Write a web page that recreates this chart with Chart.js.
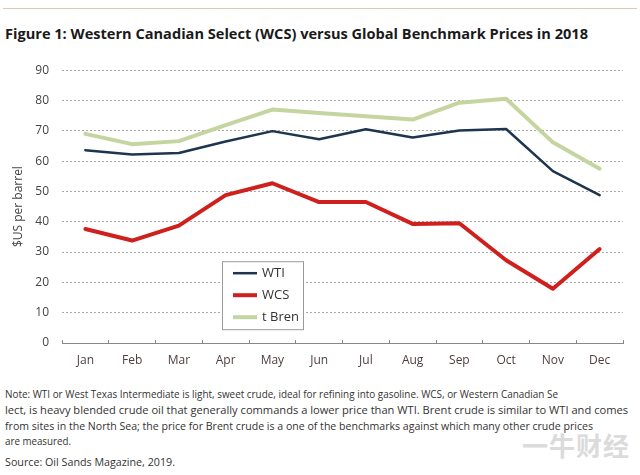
<!DOCTYPE html>
<html>
<head>
<meta charset="utf-8">
<script src="https://cdn.jsdelivr.net/npm/chart.js@4/dist/chart.umd.min.js"></script>
<style>
  body { margin: 0; background: #fff; width: 640px; height: 475px; position: relative; overflow: hidden; font-family: "Open Sans", "Noto Sans", sans-serif; }
  #rule { position: absolute; left: 3px; top: 8px; width: 634px; height: 1px; background: #d9cfae; }
  .fit { position: absolute; white-space: nowrap; transform-origin: 0 50%; }
  #title { left: 5px; top: 23px; font-size: 15px; font-weight: 700; color: #1a1a1a; }
  .note { left: 5px; font-size: 11px; color: #333; }
  #wrap { position: absolute; left: 0; top: 50px; width: 640px; height: 325px; }
  #mark { position: absolute; left: 522px; top: 426px; font-family: "Noto Sans CJK SC", sans-serif; font-weight: 700; font-size: 26px; color: #b8b8b8; opacity: 0.5; letter-spacing: 1px; }
</style>
</head>
<body>
<div id="rule"></div>
<div id="title" class="fit" data-w="583">Figure 1: Western Canadian Select (WCS) versus Global Benchmark Prices in 2018</div>
<div id="wrap"><canvas id="chart" width="640" height="325"></canvas></div>
<div class="fit note" style="top:386px" data-w="553">Note: WTI or West Texas Intermediate is light, sweet crude, ideal for refining into gasoline. WCS, or Western Canadian Se</div>
<div class="fit note" style="top:402px" data-w="623">lect, is heavy blended crude oil that generally commands a lower price than WTI. Brent crude is similar to WTI and comes</div>
<div class="fit note" style="top:418px" data-w="588">from sites in the North Sea; the price for Brent crude is a one of the benchmarks against which many other crude prices</div>
<div class="fit note" style="top:433px" data-w="66">are measured.</div>
<div class="fit note" style="top:454px" data-w="170">Source: Oil Sands Magazine, 2019.</div>
<div id="mark">一牛财经</div>
<script>
var months = ['Jan', 'Feb', 'Mar', 'Apr', 'May', 'Jun', 'Jul', 'Aug', 'Sep', 'Oct', 'Nov', 'Dec'];
var wti = [63.6, 62.2, 62.7, 66.5, 69.9, 67.2, 70.5, 67.8, 70.1, 70.6, 56.7, 48.8];
var wcs = [37.6, 33.8, 38.7, 48.8, 52.7, 46.5, 46.5, 39.3, 39.5, 27.3, 17.9, 31.0];
var brent = [69.0, 65.6, 66.6, 71.9, 77.0, 75.9, 74.8, 73.7, 79.3, 80.6, 66.2, 57.5];
var legendNames = ['WTI', 'WCS', 't Bren'];

// squeeze the text lines to the width they take in the figure
function fitText() {
	var els = document.querySelectorAll('.fit');
	for (var i = 0; i < els.length; i++) {
		var target = parseFloat(els[i].getAttribute('data-w'));
		var w = els[i].getBoundingClientRect().width;
		if (w > 0) els[i].style.transform = 'scaleX(' + (target / w) + ')';
	}
}
fitText();

// boxed legend sitting inside the plot
var boxLegend = {
	id: 'boxLegend',
	afterDraw: function(chart) {
		var ctx = chart.ctx;
		var a = chart.chartArea;
		var x = a.left + 160, y = a.top + 191, w = 81, h = 68;
		ctx.save();
		ctx.fillStyle = '#fff';
		ctx.fillRect(x, y, w, h);
		ctx.strokeStyle = '#9a9a9a';
		ctx.lineWidth = 1;
		ctx.strokeRect(x + 0.5, y + 0.5, w, h);
		ctx.font = '13px "Open Sans", sans-serif';
		ctx.textBaseline = 'middle';
		chart.data.datasets.forEach(function(ds, i) {
			var ly = y + 12 + i * 22;
			ctx.strokeStyle = ds.borderColor;
			ctx.lineWidth = ds.borderWidth;
			ctx.beginPath();
			ctx.moveTo(x + 11, ly);
			ctx.lineTo(x + 35, ly);
			ctx.stroke();
			ctx.fillStyle = '#333';
			ctx.fillText(legendNames[i], x + 40, ly);
		});
		ctx.restore();
	}
};

var ctx = document.getElementById('chart').getContext('2d');
new Chart(ctx, {
	type: 'line',
	data: {
		labels: months,
		datasets: [
			{ label: 'WTI', data: wti, borderColor: '#1e3550', borderWidth: 2.5 },
			{ label: 'WCS', data: wcs, borderColor: '#d0201e', borderWidth: 4 },
			{ label: 'Brent', data: brent, borderColor: '#c4d5a0', borderWidth: 4 }
		]
	},
	options: {
		responsive: false,
		animation: false,
		devicePixelRatio: 1,
		layout: { padding: { top: 16, right: 17, left: 0, bottom: 0 } },
		elements: { point: { radius: 0 }, line: { tension: 0, borderJoinStyle: 'round', borderCapStyle: 'round' } },
		plugins: { legend: { display: false }, tooltip: { enabled: false } },
		scales: {
			x: {
				offset: true,
				afterFit: function(s) { s.height = 32; },
				// tick marks point up into the plot, as in the figure
				grid: { offset: true, drawOnChartArea: false, drawTicks: true, tickLength: -3, color: '#888' },
				border: { display: true, color: '#888', width: 1 },
				ticks: { color: '#4f3e3e', font: { size: 12, family: '"Open Sans", sans-serif' }, padding: 13, maxRotation: 0, autoSkip: false }
			},
			y: {
				min: 0, max: 90,
				afterFit: function(s) { s.width = 62; },
				grid: { color: '#aaa', borderDash: [2, 2], drawTicks: false },
				border: { display: false, dash: [2, 2] },
				ticks: { stepSize: 10, color: '#444', font: { size: 12, family: '"Open Sans", sans-serif' }, padding: 13 },
				title: { display: true, text: '$US per barrel', color: '#444', font: { size: 12, family: '"Open Sans", sans-serif' }, padding: { top: 11, bottom: 0 } }
			}
		}
	},
	plugins: [boxLegend]
});
</script>
</body>
</html>
